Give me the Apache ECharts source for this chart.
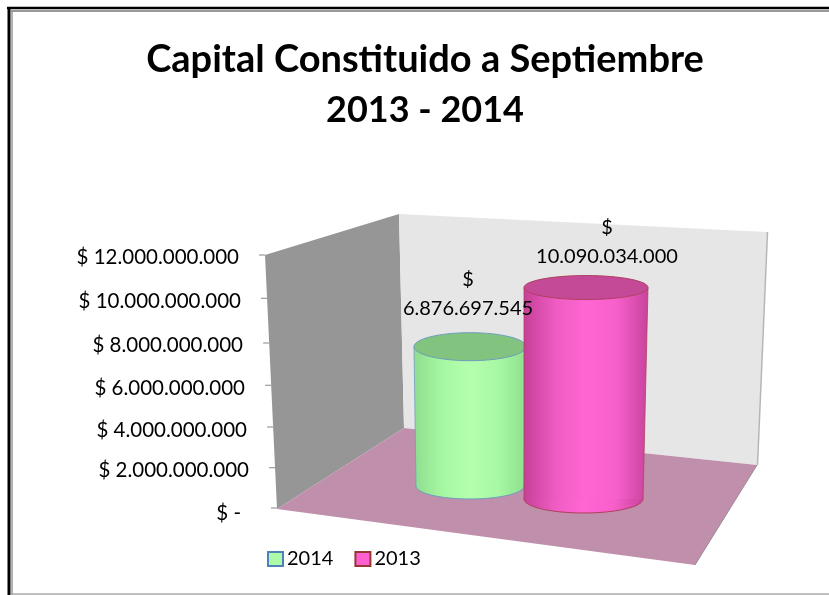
<!DOCTYPE html>
<html>
<head>
<meta charset="utf-8">
<style>
  html, body { margin: 0; padding: 0; background: #fff; }
  #chart { width: 829px; height: 595px; }
</style>
<script src="https://cdn.jsdelivr.net/npm/echarts@6/dist/echarts.min.js"></script>
</head>
<body>
<div id="chart"></div>
<script>
const titleLines = ['Capital Constituido a Septiembre', '2013 - 2014'];
const seriesNames = ['2014', '2013'];
const capitalValues = [6876697545, 10090034000];
const yTicks = [0, 2000000000, 4000000000, 6000000000, 8000000000, 10000000000, 12000000000];

// the group separator in the source is a dot
function money(v) {
  return String(v).replace(/\B(?=(\d{3})+(?!\d))/g, '.');
}

const chart = echarts.init(document.getElementById('chart'));

const gridTop = 255.5;
const gridBottom = 509;

// perspective in the source: labels and ticks drift a little from a straight axis
// same order as yTicks
const labelShiftY = [4, 4, 5.5, 6, 5, 4, 1.5];
const labelShiftX = [9, 1, 3, 5, 7, 9, 11];
const tickShiftY = [-1, 1, 2.5, 3, 3, 0.5, -0.5];

const labelRich = {};
yTicks.forEach((v, i) => {
  labelRich['t' + i] = {
    fontFamily: 'Lato',
    fontSize: 20.5,
    color: '#000',
    padding: [labelShiftY[i] * 2, labelShiftX[i], 0, 0]
  };
});

// how each cylinder sits in the fake 3D box
const looks = [
  {
    baseLift: 23, shrink: 0.959, topRx: 56, topRy: 14, baseRx: 54, baseRy: 13, skew: 0,
    labelDx: -2, labelDy: 53,
    stops: ['#8fdd8f', '#a6f7a2', '#b4ffae', '#a8f8a4', '#8ee08e'],
    top: '#82c47f', line: '#6f9dbb'
  },
  {
    baseLift: 10, shrink: 0.992, topRx: 62, topRy: 12, baseRx: 59.5, baseRy: 14, skew: -2.5,
    labelDx: 21, labelDy: 46,
    stops: ['#c54097', '#ee5bc2', '#ff66d3', '#f75fcb', '#c8439c'],
    top: '#c44a98', line: '#b0405f'
  }
];

function renderCylinder(params, api) {
  const look = looks[params.seriesIndex];
  const value = api.value(1);
  const center = api.coord([api.value(0), 0]);
  const height = api.size([0, value])[1] * look.shrink;
  const topX = center[0];
  const baseX = topX + look.skew;
  const baseY = center[1] - look.baseLift;
  const topY = baseY - height;
  const n = look.stops.length - 1;
  const fill = new echarts.graphic.LinearGradient(0, 0, 1, 0,
    look.stops.map((c, i) => ({ offset: i / n, color: c })));
  return {
    type: 'group',
    children: [
      {
        type: 'ellipse',
        shape: { cx: baseX, cy: baseY, rx: look.baseRx, ry: look.baseRy },
        style: { fill: fill, stroke: look.line, lineWidth: 1 }
      },
      {
        type: 'polygon',
        shape: { points: [
          [topX - look.topRx, topY],
          [topX + look.topRx, topY],
          [baseX + look.baseRx, baseY],
          [baseX - look.baseRx, baseY]
        ] },
        style: { fill: fill }
      },
      {
        type: 'line',
        shape: { x1: topX - look.topRx, y1: topY, x2: baseX - look.baseRx, y2: baseY },
        style: { stroke: look.line, lineWidth: 0.8 }
      },
      {
        type: 'line',
        shape: { x1: topX + look.topRx, y1: topY, x2: baseX + look.baseRx, y2: baseY },
        style: { stroke: look.line, lineWidth: 0.8 }
      },
      {
        type: 'ellipse',
        shape: { cx: topX, cy: topY, rx: look.topRx, ry: look.topRy },
        style: { fill: look.top, stroke: look.line, lineWidth: 1 }
      },
      {
        type: 'text',
        z2: 100,
        style: {
          x: topX + look.labelDx,
          y: topY - look.labelDy,
          text: '$\n' + money(value),
          align: 'center',
          verticalAlign: 'middle',
          font: '20px Lato',
          lineHeight: 29,
          fill: '#000'
        }
      }
    ]
  };
}

function renderTick(params, api) {
  const p = api.coord([0, api.value(0)]);
  const y = p[1] + tickShiftY[params.dataIndex];
  const x = 265 + 12 * (y - gridTop) / (gridBottom - gridTop);
  return {
    type: 'line',
    shape: { x1: x - 6, y1: y, x2: x, y2: y },
    style: { stroke: '#868686', lineWidth: 1 }
  };
}

chart.setOption({
  animation: false,
  title: {
    text: '{a|' + titleLines[0] + '}\n{b|' + titleLines[1] + '}',
    left: 420,
    top: 30,
    textAlign: 'center',
    textStyle: {
      rich: {
        a: { fontFamily: 'Lato', fontWeight: 'bold', fontSize: 38, lineHeight: 50, color: '#000' },
        b: { fontFamily: 'Lato', fontWeight: 'bold', fontSize: 36, lineHeight: 50, color: '#000' }
      }
    }
  },
  legend: {
    left: 262,
    top: 544,
    itemWidth: 15,
    itemHeight: 14,
    itemGap: 21,
    data: seriesNames.map((name) => ({ name: name, icon: 'rect' })),
    textStyle: { fontFamily: 'Lato', fontSize: 20, color: '#000', padding: [0, 0, 0, -1] }
  },
  grid: { left: 412, width: 232, top: gridTop, height: gridBottom - gridTop },
  xAxis: { type: 'category', data: seriesNames, show: false },
  yAxis: {
    type: 'value',
    min: 0,
    max: 12000000000,
    interval: 2000000000,
    offset: 162,
    splitLine: { show: false },
    axisLine: { show: false },
    axisTick: { show: false },
    axisLabel: {
      margin: 0,
      rich: labelRich,
      formatter: (v) => '{t' + yTicks.indexOf(v) + '|$ ' + (v === 0 ? '-' : money(v)) + '}'
    }
  },
  graphic: [
    { type: 'line', shape: { x1: 7, y1: 8, x2: 829, y2: 8 }, style: { stroke: '#000', lineWidth: 2.5 } },
    { type: 'line', shape: { x1: 9, y1: 7, x2: 9, y2: 595 }, style: { stroke: '#000', lineWidth: 3 } },
    { type: 'line', shape: { x1: 11, y1: 11, x2: 829, y2: 11 }, style: { stroke: '#999', lineWidth: 2 } },
    { type: 'line', shape: { x1: 12, y1: 10, x2: 12, y2: 595 }, style: { stroke: '#999', lineWidth: 1.5 } },
    { type: 'line', shape: { x1: 12, y1: 594, x2: 829, y2: 594 }, style: { stroke: '#aaa', lineWidth: 1.5 } },
    { type: 'polygon', shape: { points: [[265, 255], [399, 214], [404, 428], [277, 509]] }, style: { fill: '#969696' } },
    { type: 'polygon', shape: { points: [[399, 214], [767, 232], [757, 465], [404, 428]] }, style: { fill: '#e6e6e6' } },
    { type: 'line', shape: { x1: 767.5, y1: 232, x2: 757.5, y2: 465 }, style: { stroke: '#b5b5b5', lineWidth: 1.5 } },
    { type: 'polygon', shape: { points: [[277, 509], [404, 428], [757, 465], [695, 565]] }, style: { fill: '#c08fab' } },
    { type: 'line', shape: { x1: 757, y1: 465, x2: 695, y2: 565 }, style: { stroke: '#9a8a94', lineWidth: 1 } }
  ],
  series: [
    { name: seriesNames[0], type: 'custom', renderItem: renderCylinder, data: [[0, capitalValues[0]]], encode: { x: 0, y: 1 }, itemStyle: { color: '#adfba8', borderColor: '#4f81bd', borderWidth: 1.5 } },
    { name: seriesNames[1], type: 'custom', renderItem: renderCylinder, data: [[1, capitalValues[1]]], encode: { x: 0, y: 1 }, itemStyle: { color: '#ff5fcf', borderColor: '#953735', borderWidth: 1.5 } },
    { type: 'custom', renderItem: renderTick, data: yTicks.map((v) => [v]), encode: { y: 0 }, silent: true }
  ]
});
</script>
</body>
</html>
